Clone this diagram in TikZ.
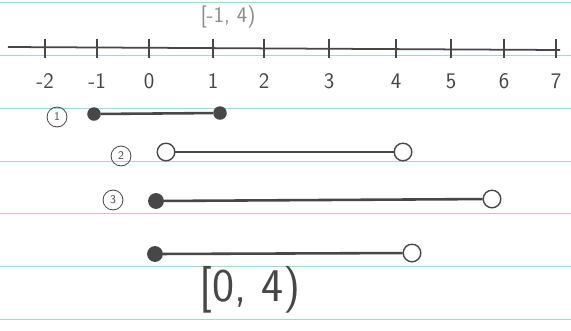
\documentclass[tikz,border=0pt]{standalone}
\usetikzlibrary{positioning}
\definecolor{pencil}{HTML}{474747}
\definecolor{ruled}{HTML}{A9D3DE}
\definecolor{faint}{HTML}{8C8C8C}

\tikzset{
  closedpt/.style={circle, fill=pencil, draw=pencil, inner sep=0pt, minimum size=10pt},
  openpt/.style={circle, fill=white, draw=pencil, line width=1.2pt, inner sep=0pt, minimum size=15pt},
  caselabel/.style={circle, draw=pencil, line width=0.7pt, inner sep=0pt, minimum size=17pt, text=pencil, font=\sffamily\normalsize},
  ticklabel/.style={text=pencil, font=\sffamily\fontsize{19}{19}\selectfont},
  segline/.style={pencil, line width=2.2pt},
}

\begin{document}
\begin{tikzpicture}[x=0.03cm, y=-0.03cm, line width=1.5pt]

\useasboundingbox (0,0) rectangle (571,330);

% Paper
\fill[white] (0,0) rectangle (571,330);
\foreach \y in {2,55,108,161,213,266,319} {
  \draw[ruled, line width=0.8pt] (0,\y) -- (571,\y);
}

% Note above the number line
\node[text=faint, font=\sffamily\fontsize{19}{19}\selectfont] (note) at (228,17) {[-1, 4)};

%% Number line
\coordinate (nl west) at (8,47);
\coordinate (nl east) at (560,50);
\draw[pencil] (nl west) -- (nl east);
\foreach \x/\v in {45/-2,97/-1,149/0,213/1,264/2,329/3,396/4,451/5,504/6,556/7} {
  \draw[pencil, line width=1.2pt] (\x,39) -- (\x,58);
  \node[ticklabel] (lbl\v) at (\x,81) {\v};
}

%% Case 1
\node[caselabel] (c1) at (57,117) {1};
\node[closedpt] (s1a) at (94,114) {};
\node[closedpt] (s1b) at (220,113) {};
\draw[segline] (s1a) -- (s1b);

%% Case 2
\node[caselabel] (c2) at (121,156) {2};
\node[openpt] (s2a) at (166,152) {};
\node[openpt] (s2b) at (403,152) {};
\draw[segline] (s2a) -- (s2b);

%% Case 3
\node[caselabel] (c3) at (113,200) {3};
\node[closedpt, minimum size=12pt] (s3a) at (156,201) {};
\node[openpt] (s3b) at (492,199) {};
\draw[segline] (s3a) -- (s3b);

%% Intersection
\node[closedpt, minimum size=12pt] (s4a) at (155,254) {};
\node[openpt] (s4b) at (412,253) {};
\draw[segline] (s4a) -- (s4b);

% Result
\node[text=pencil, font=\sffamily\fontsize{40}{40}\selectfont] (answer) at (250,290) {[0, 4)};

\end{tikzpicture}
\end{document}
